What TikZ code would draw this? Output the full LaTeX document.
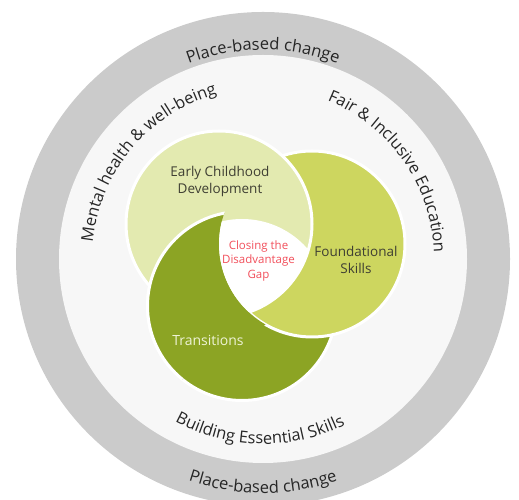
\documentclass[tikz,border=0pt]{standalone}
\usepackage{fontspec}
\setmainfont{Open Sans}
\usetikzlibrary{decorations.text,calc}
\definecolor{ringgray}{HTML}{CBCBCB}
\definecolor{innerbg}{HTML}{F7F7F7}
\definecolor{ecd}{HTML}{E3EAB0}
\definecolor{fnd}{HTML}{CDD65F}
\definecolor{trn}{HTML}{8CA424}
\definecolor{darktxt}{HTML}{3F3F33}
\definecolor{redtxt}{HTML}{F2505C}
\definecolor{ringtxt}{HTML}{262626}
\definecolor{trntxt}{HTML}{EEF3D6}
\newcommand\myringfont{\fontsize{16.5}{18}\selectfont\color{ringtxt}}
\begin{document}
\begin{tikzpicture}[x=1pt,y=1pt,
  petal/.style={draw=white, line width=3pt},
  petaltext/.style={align=center, font=\fontsize{13.5}{17}\selectfont, text=darktxt},
  ringlabel/.style={decorate, decoration={text along path, text align=center,
     text format delimiters={|}{|}, text={|\myringfont|#1}}}]
\useasboundingbox (0,0) rectangle (519,500);
\clip (0,0) rectangle (519,500);
\coordinate (O) at (263,241);
\coordinate (L) at (219,276);
\coordinate (F) at (312,256);
\coordinate (T) at (242,194);
% rings
\fill[ringgray] (O) circle (247);
\fill[innerbg] (O) circle (204);
% petals
\filldraw[petal, fill=trn] (T) circle (94.5);
\filldraw[petal, fill=fnd] (F) circle (93);
\filldraw[petal, fill=ecd] (L) circle (93);
\begin{scope}
  \clip (0,500) -- ($(F)+(120:93)$) arc[start angle=120, end angle=240, radius=93] -- (0,0) -- cycle;
  \filldraw[petal, fill=trn] (T) circle (94.5);
\end{scope}
% centre
\begin{scope}
  \clip (T) circle (87);
  \clip (F) circle (93);
  \fill[white] (L) circle (93);
\end{scope}
% labels
\node[petaltext] (ecdtxt) at (220,319) {Early Childhood\\Development};
\node[petaltext] (fndtxt) at (356,240) {Foundational\\Skills};
\node[petaltext, text=trntxt, font=\fontsize{14}{17}\selectfont] (trntxt) at (208,160) {Transitions};
\node[align=center, text=redtxt, font=\fontsize{11.5}{14.5}\selectfont] (gaptxt) at (258.5,239) {Closing the\\Disadvantage\\Gap};
% ring texts
\path[ringlabel={Place-based change}] ($(O)+(150:209)$) arc[start angle=150, end angle=30, radius=209];
\path[ringlabel={Place-based change}] ($(O)+(210:234)$) arc[start angle=210, end angle=330, radius=234];
\path[ringlabel={Mental health {\&} well-being}] ($(O)+(200:171)$) arc[start angle=200, end angle=80, radius=171];
\path[ringlabel={Fair {\&} Inclusive Education}] ($(O)+(95:171)$) arc[start angle=95, end angle=-25, radius=171];
\path[ringlabel={Building Essential Skills}] ($(O)+(209:185)$) arc[start angle=209, end angle=329, radius=185];
\end{tikzpicture}
\end{document}
